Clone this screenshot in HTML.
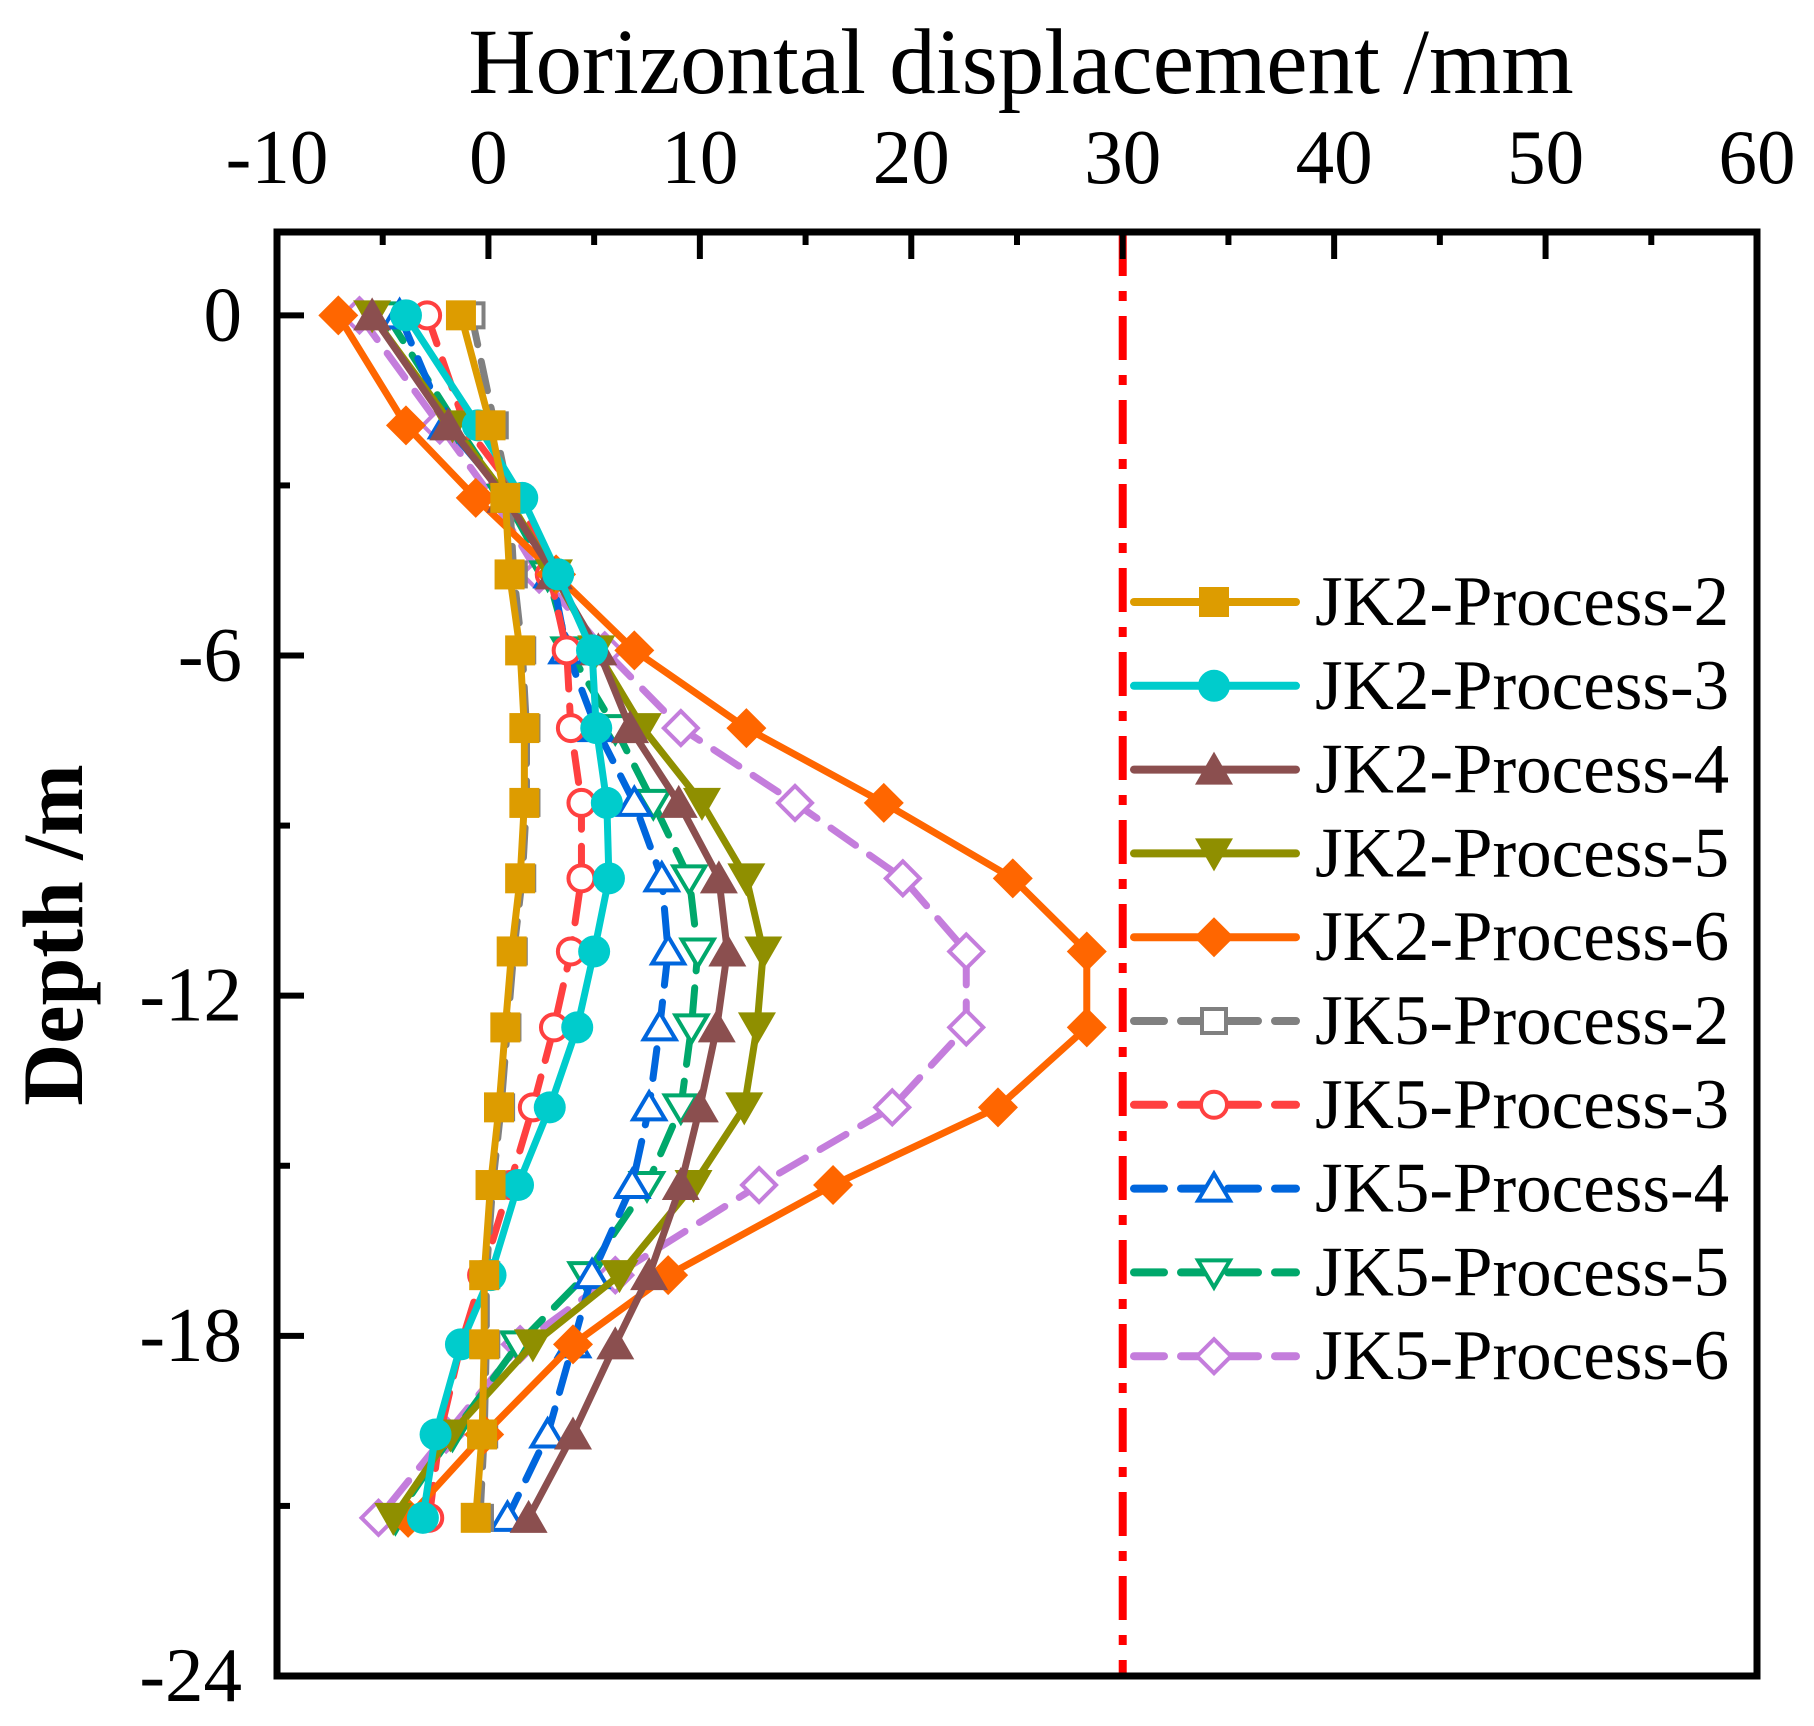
<!DOCTYPE html>
<html><head><meta charset="utf-8"><style>
html,body{margin:0;padding:0;background:#fff;}
svg{display:block;}
text{font-family:"Liberation Serif",serif;fill:#000;}
</style></head><body>
<svg id="chart" width="1814" height="1726" viewBox="0 0 1814 1726" xmlns="http://www.w3.org/2000/svg">
<g id="plot"></g>
</svg>
<script>
const xTicks=[-10,0,10,20,30,40,50,60];
const yTicks=[0,-6,-12,-18,-24];
const depths=[0,-1.94,-3.22,-4.57,-5.91,-7.28,-8.6,-9.93,-11.22,-12.56,-13.97,-15.34,-16.93,-18.15,-19.74,-21.21];
const seriesNames=["JK2-Process-2","JK2-Process-3","JK2-Process-4","JK2-Process-5","JK2-Process-6","JK5-Process-2","JK5-Process-3","JK5-Process-4","JK5-Process-5","JK5-Process-6"];
const jk2p2=[-1.3,0.1,0.8,1.0,1.5,1.7,1.7,1.5,1.1,0.8,0.5,0.1,-0.2,-0.2,-0.3,-0.6];
const jk2p3=[-3.9,-0.5,1.6,3.3,4.9,5.1,5.6,5.7,5.0,4.2,2.9,1.4,0.1,-1.3,-2.5,-3.1];
const jk2p4=[-5.5,-1.9,0.8,3.1,5.2,6.7,9.0,10.9,11.3,10.8,10.0,9.1,7.6,6.0,4.0,1.9];
const jk2p5=[-5.5,-1.7,0.9,3.1,5.1,7.3,10.1,12.2,13.0,12.7,12.1,9.7,6.2,2.1,-1.8,-4.5];
const jk2p6=[-7.1,-3.9,-0.6,3.2,6.9,12.2,18.7,24.8,28.3,28.3,24.1,16.3,8.5,4.0,-0.2,-3.8];
const jk5p2=[-0.8,0.3,1.0,1.2,1.6,1.8,1.8,1.6,1.2,0.9,0.6,0.2,-0.1,-0.1,-0.2,-0.4];
const jk5p3=[-2.9,-1.1,1.5,2.9,3.7,3.9,4.4,4.4,3.9,3.1,2.1,1.0,-0.3,-1.3,-2.3,-2.8];
const jk5p4=[-4.2,-2.0,0.9,3.0,3.7,5.1,6.9,8.2,8.5,8.1,7.6,6.8,4.9,4.0,2.8,0.9];
const jk5p5=[-4.8,-1.5,0.8,2.8,3.8,6.0,7.8,9.5,9.9,9.6,9.1,7.5,4.6,1.4,-1.7,-4.4];
const jk5p6=[-6.1,-2.3,0.2,2.4,5.5,9.1,14.5,19.6,22.6,22.6,19.1,12.8,6.0,1.5,-2.0,-5.2];
const limitValue=30;

const L=277,R=1757,T=232,B=1676;
const xMin=-10,xMax=60,yMin=-24,yMax=1.47;
function sx(v){return L+(v-xMin)/(xMax-xMin)*(R-L);}
function sy(d){return B-(d-yMin)/(yMax-yMin)*(B-T);}
const NS="http://www.w3.org/2000/svg";
const g=document.getElementById('plot');
function mk(tag,attrs,parent){const e=document.createElementNS(NS,tag);for(const k in attrs)e.setAttribute(k,attrs[k]);(parent||g).appendChild(e);return e;}

const allVals=[jk2p2,jk2p3,jk2p4,jk2p5,jk2p6,jk5p2,jk5p3,jk5p4,jk5p5,jk5p6];
const colors=["#dd9c00","#00cccc","#8b4f4f","#8f8f00","#ff6600","#808080","#ff4040","#0066dd","#00a86b","#c47ddc"];
const markers=["square","circle","up","down","diamond","square","circle","up","down","diamond"];
const dashed=[false,false,false,false,false,true,true,true,true,true];

function marker(type,cx,cy,color,hollow,parent){
  const fill=hollow?"#fff":color, st={stroke:color,'stroke-width':hollow?4:0,fill:fill};
  const s=hollow?12:15;
  let e;
  if(type==="square") e=mk('rect',Object.assign({x:cx-s,y:cy-s,width:2*s,height:2*s},st),parent);
  else if(type==="circle") e=mk('circle',Object.assign({cx:cx,cy:cy,r:s+1},st),parent);
  else if(type==="up") e=mk('polygon',Object.assign({points:`${cx},${cy-s-3} ${cx+s+4},${cy+s} ${cx-s-4},${cy+s}`},st),parent);
  else if(type==="down") e=mk('polygon',Object.assign({points:`${cx},${cy+s+3} ${cx+s+4},${cy-s} ${cx-s-4},${cy-s}`},st),parent);
  else e=mk('polygon',Object.assign({points:`${cx},${cy-s-5} ${cx+s+5},${cy} ${cx},${cy+s+5} ${cx-s-5},${cy}`},st),parent);
  return e;
}

const lim=mk('line',{x1:sx(limitValue),x2:sx(limitValue),y1:T,y2:B,stroke:"#ff0000",'stroke-width':8,'stroke-dasharray':"44 15 10 15"});



for(let i=allVals.length-1;i>=0;i--){
  const sg=mk('g',{});
  
  
  const pts=allVals[i].map((v,j)=>sx(v)+','+sy(depths[j])).join(' ');
  mk('polyline',{points:pts,fill:'none',stroke:colors[i],'stroke-width':7,'stroke-dasharray':dashed[i]?"30 17":"none",'stroke-linejoin':'round','stroke-linecap':'round'},sg);
  allVals[i].forEach((v,j)=>{
    const m=marker(markers[i],sx(v),sy(depths[j]),colors[i],dashed[i],sg);
    
    
  });
}

const fr=mk('rect',{x:L,y:T,width:R-L,height:B-T,fill:'none',stroke:'#000','stroke-width':7});



for(let v=-10;v<=60;v+=5){
  const major=v%10===0;
  mk('line',{x1:sx(v),x2:sx(v),y1:T,y2:T+(major?27:13),stroke:'#000','stroke-width':6});
}
xTicks.forEach(v=>{
  const t=mk('text',{x:sx(v),y:183,'font-size':77,'text-anchor':'middle'});
  t.textContent=v;
  
  
});
for(let d=0;d>=-24;d-=3){
  const major=d%6===0;
  mk('line',{x1:L,x2:L+(major?27:13),y1:sy(d),y2:sy(d),stroke:'#000','stroke-width':6});
}
yTicks.forEach(d=>{
  const t=mk('text',{x:242,y:sy(d)+25,'font-size':77,'text-anchor':'end'});
  t.textContent=d;
  
  
});

const xt=mk('text',{x:1021,y:93,'font-size':93,'text-anchor':'middle'});
xt.textContent='Horizontal displacement /mm';


const yt=mk('text',{x:0,y:0,'font-size':86,'font-weight':'bold','text-anchor':'middle',transform:'translate(82,935) rotate(-90)'});
yt.textContent='Depth /m';



const lg=mk('g',{});


seriesNames.forEach((n,i)=>{
  const ry=602+i*83.8;
  const eg=mk('g',{},lg);
  
  
  mk('line',{x1:1134,x2:1296,y1:ry,y2:ry,stroke:colors[i],'stroke-width':8,'stroke-linecap':'round','stroke-dasharray':dashed[i]?"30 17":"none"},eg);
  marker(markers[i],1214,ry,colors[i],dashed[i],eg);
  const t=mk('text',{x:1315,y:ry+23,'font-size':71},eg);
  t.textContent=n;
});
</script>
</body></html>
